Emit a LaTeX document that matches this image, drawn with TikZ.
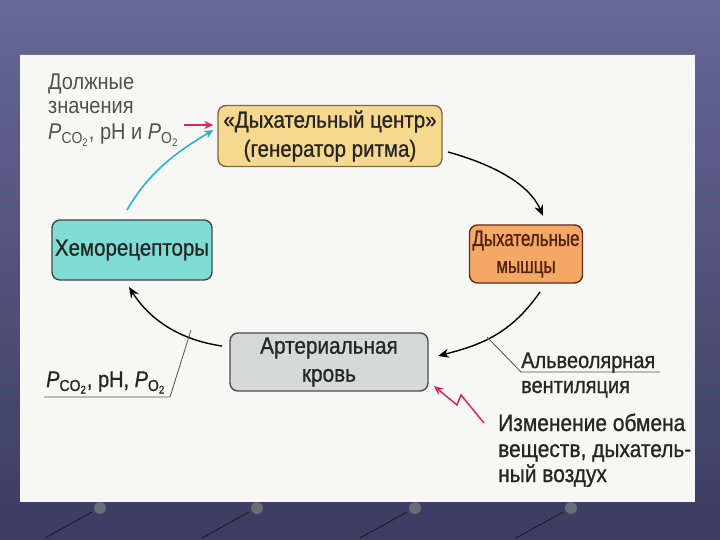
\documentclass[tikz,border=0pt]{standalone}
\usepackage{fontspec}
\setmainfont[FakeStretch=0.88]{Liberation Sans}
\newfontfamily\heavyfont[FakeStretch=0.88,FakeBold=0.9]{Liberation Sans}
\newfontfamily\narrowfont[FakeStretch=0.76,FakeBold=1.1]{Liberation Sans}
\usetikzlibrary{arrows.meta,shadings}
\definecolor{bgtop}{HTML}{666896}
\definecolor{bgbot}{HTML}{3A3D60}
\definecolor{panel}{HTML}{F7F8F6}
\definecolor{txt}{HTML}{262626}
\definecolor{lbl}{HTML}{505050}
\definecolor{yfill}{HTML}{F6D98E}
\definecolor{ydraw}{HTML}{7A6A40}
\definecolor{ofill}{HTML}{F4A866}
\definecolor{odraw}{HTML}{6A2A12}
\definecolor{cfill}{HTML}{80DDD6}
\definecolor{cdraw}{HTML}{3C4A4A}
\definecolor{gfill}{HTML}{D6D9D8}
\definecolor{gdraw}{HTML}{4A4E4E}
\definecolor{cyanarr}{HTML}{2BB3C6}
\definecolor{pinkarr}{HTML}{E0245E}
\tikzset{
  boxbase/.style={rounded corners=8pt, line width=1.4pt, align=center, inner sep=0pt,
    font=\heavyfont\fontsize{23.3}{29}\selectfont, text=txt},
  flow/.style={-{Stealth[length=11pt,width=9pt]}, line width=1.4pt, black},
  lab/.style={anchor=base west, inner sep=0pt, font=\fontsize{22.7}{26}\selectfont},
  darklab/.style={lab, font=\heavyfont\fontsize{22.7}{26}\selectfont},
  bigl/.style={lab, font=\heavyfont\fontsize{23.8}{26}\selectfont},
  leader/.style={line width=0.8pt, lbl},
}
\newcommand{\Pco}{\textit{P}\textsubscript{CO\textsubscript{2}}}
\newcommand{\Po}{\textit{P}\textsubscript{O\textsubscript{2}}}
\begin{document}
\begin{tikzpicture}[x=1pt,y=-1pt]
\useasboundingbox (0,0) rectangle (720,540);
\shade[top color=bgtop, bottom color=bgbot] (0,0) rectangle (720,540);
% faint decorations
\foreach \xx in {100,257,415,571} {
  \draw[black!70!bgbot, line width=0.7pt] (\xx-55,538) -- (\xx-8,512);
  \fill[gray!70!bgbot] (\xx,508) circle (6);
}
\fill[panel] (20,55) rectangle (695,502);
\draw[bgbot!70!white, line width=0.8pt] (18,54) -- (697,54);

% boxes
\node[boxbase, fill=yfill, draw=ydraw, minimum width=224pt, minimum height=61pt] (center) at (330,136)
  {«Дыхательный центр»\\(генератор ритма)};
\node[boxbase, fill=ofill, draw=odraw, text=odraw!80!black, minimum width=113pt, minimum height=58pt, font=\narrowfont\fontsize{22.3}{27}\selectfont] (muscle) at (526,254)
  {Дыхательные\\мышцы};
\node[boxbase, fill=cfill, draw=cdraw, minimum width=160pt, minimum height=60pt, font=\heavyfont\fontsize{23.3}{27}\selectfont] (chemo) at (132,250)
  {Хеморецепторы};
\node[boxbase, fill=gfill, draw=gdraw, minimum width=198pt, minimum height=58pt, font=\heavyfont\fontsize{23.6}{28}\selectfont] (blood) at (329,362)
  {Артериальная\\кровь};

% top-left label
\node[lab, text=lbl] (must) at (48,90) {Должные};
\node[lab, text=lbl] (must2) at (48,114) {значения};
\node[lab, text=lbl] (must3) at (48,140) {\Pco, pH и \Po};

% arrows
\coordinate (pinkstart) at (184,125);
\draw[-{Stealth[length=9pt,width=8pt]}, line width=1.4pt, pinkarr] (pinkstart) -- ([xshift=-4pt]center.west |- pinkstart);
\coordinate (cyanstart) at (127,210);
\draw[-{Stealth[length=9pt,width=8pt]}, line width=1.6pt, cyanarr] (cyanstart) .. controls (150,170) and (180,150) .. ([xshift=-4pt,yshift=6pt]center.west);
\coordinate (a1s) at (448,152);
\coordinate (a1e) at (543,216);
\draw[flow] (a1s) .. controls (495,165) and (530,185) .. (a1e);
\coordinate (a2s) at (540,292);
\coordinate (a2e) at (438,356);
\draw[flow] (a2s) .. controls (510,335) and (480,345) .. (a2e);
\coordinate (a3s) at (222,346);
\coordinate (a3e) at (129,287);
\draw[flow] (a3s) .. controls (180,340) and (150,320) .. (a3e);

% left label
\coordinate (l1) at (191,330);
\coordinate (l2) at (170,397);
\coordinate (l3) at (44,397);
\draw[leader] (l1) -- (l2) -- (l3);
\node[darklab, text=txt] (pvals) at (46,387) {\Pco, pH, \Po};

% right label
\coordinate (r1) at (487,337);
\coordinate (r2) at (521,372);
\coordinate (r3) at (660,372);
\draw[leader] (r1) -- (r2) -- (r3);
\node[darklab, text=txt] (alv) at (521,368) {Альвеолярная};
\node[darklab, text=txt] (vent) at (521,393) {вентиляция};

% lightning arrow
\coordinate (zt) at (484,423);
\coordinate (zip) at (434,386);
\draw[pinkarr, line width=1.5pt, line join=miter, -{Stealth[length=9pt,width=8pt]}]
  (zt) -- (461,395) -- (457,405) -- (zip);

% bottom-right text
\node[bigl, text=txt] (chg1) at (498,431) {Изменение обмена};
\node[bigl, text=txt] (chg2) at (498,457) {веществ, дыхатель-};
\node[bigl, text=txt] (chg3) at (498,482) {ный воздух};
\end{tikzpicture}
\end{document}
